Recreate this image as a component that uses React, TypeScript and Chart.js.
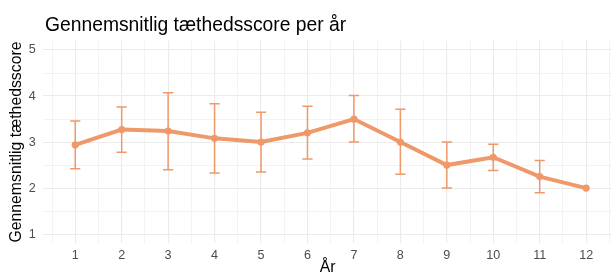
import React, { useEffect, useRef } from "react";
import { Chart, registerables } from "chart.js";

Chart.register(...registerables);

// ---- data ----
const years = [1, 2, 3, 4, 5, 6, 7, 8, 9, 10, 11, 12];
const meanScore = [2.94, 3.27, 3.24, 3.08, 3.0, 3.2, 3.5, 3.0, 2.5, 2.67, 2.25, 2.0];
const lowerScore: (number | null)[] = [2.42, 2.78, 2.4, 2.33, 2.35, 2.63, 3.0, 2.3, 2.0, 2.38, 1.9, null];
const upperScore: (number | null)[] = [3.46, 3.76, 4.07, 3.83, 3.65, 3.78, 4.01, 3.71, 3.0, 2.95, 2.6, null];
const xTickValues = [0.5, 1, 1.5, 2, 2.5, 3, 3.5, 4, 4.5, 5, 5.5, 6, 6.5, 7, 7.5, 8, 8.5, 9, 9.5, 10, 10.5, 11, 11.5, 12, 12.5];
const yTickValues = [1, 1.5, 2, 2.5, 3, 3.5, 4, 4.5, 5];

const TITLE = "Gennemsnitlig tæthedsscore per år";
const Y_TITLE = "Gennemsnitlig tæthedsscore";
const X_TITLE = "År";

const LINE_COLOR = "#EF996A";
const GRID_MAJOR = "#EBEBEB";
const FONT = "'Liberation Sans', Arial, Helvetica, sans-serif";
const CAP_WIDTH = 0.22;

const errorBarPlugin = {
  id: "errorBars",
  beforeDatasetsDraw(chart: any) {
    const { ctx, scales } = chart;
    const x = scales.x;
    const y = scales.y;
    ctx.save();
    ctx.strokeStyle = LINE_COLOR;
    ctx.lineWidth = 1.5;
    years.forEach((yr, i) => {
      const lo = lowerScore[i];
      const hi = upperScore[i];
      if (lo == null || hi == null) return;
      const px = x.getPixelForValue(yr);
      const half = x.getPixelForValue(yr + CAP_WIDTH / 2) - px;
      const pLo = y.getPixelForValue(lo);
      const pHi = y.getPixelForValue(hi);
      ctx.beginPath();
      ctx.moveTo(px, pLo);
      ctx.lineTo(px, pHi);
      ctx.moveTo(px - half, pLo);
      ctx.lineTo(px + half, pLo);
      ctx.moveTo(px - half, pHi);
      ctx.lineTo(px + half, pHi);
      ctx.stroke();
    });
    ctx.restore();
  },
};

export default function App() {
  const canvasRef = useRef<HTMLCanvasElement | null>(null);

  useEffect(() => {
    if (!canvasRef.current) return;
    Chart.defaults.font.family = FONT;
    const isMajor = (v: number) => Number.isInteger(v);
    const chart = new Chart(canvasRef.current, {
      type: "line",
      data: {
        datasets: [
          {
            data: years.map((yr, i) => ({ x: yr, y: meanScore[i] })),
            borderColor: LINE_COLOR,
            backgroundColor: LINE_COLOR,
            borderWidth: 4,
            pointRadius: 3.6,
            pointBorderWidth: 0,
            pointBackgroundColor: LINE_COLOR,
            tension: 0,
          },
        ],
      },
      options: {
        animation: false,
        responsive: false,
        devicePixelRatio: 1,
        layout: { padding: { top: 40.8, left: 0, right: 0, bottom: 0 } },
        plugins: {
          legend: { display: false },
          tooltip: { enabled: false },
          title: { display: false },
        },
        scales: {
          x: {
            type: "linear",
            min: 0.3125,
            max: 12.557,
            afterBuildTicks: (scale: any) => {
              scale.ticks = xTickValues.map((v) => ({ value: v }));
            },
            afterFit: (scale: any) => {
              scale.height = 36.7;
            },
            border: { display: false },
            grid: {
              drawTicks: false,
              color: GRID_MAJOR,
              lineWidth: (ctx: any) => (isMajor(ctx.tick.value) ? 1.1 : 0.6),
            },
            ticks: {
              autoSkip: false,
              maxRotation: 0,
              minRotation: 0,
              padding: 5,
              color: "#4D4D4D",
              font: { size: 12.6 },
              callback: (v: any) => (isMajor(Number(v)) ? String(v) : ""),
            },
            title: {
              display: true,
              text: X_TITLE,
              color: "#000000",
              font: { size: 15.8 },
              padding: { top: 0, bottom: 3 },
            },
          },
          y: {
            type: "linear",
            min: 0.8,
            max: 5.2,
            afterBuildTicks: (scale: any) => {
              scale.ticks = yTickValues.map((v) => ({ value: v }));
            },
            afterFit: (scale: any) => {
              scale.width = 43.3;
            },
            border: { display: false },
            grid: {
              drawTicks: false,
              color: GRID_MAJOR,
              lineWidth: (ctx: any) => (isMajor(ctx.tick.value) ? 1.1 : 0.6),
            },
            ticks: {
              padding: 7.6,
              color: "#4D4D4D",
              font: { size: 12.6 },
              callback: (v: any) => (isMajor(Number(v)) ? String(v) : ""),
            },
            title: {
              display: true,
              text: Y_TITLE,
              color: "#000000",
              font: { size: 15.8 },
              padding: { top: 7.5, bottom: 0 },
            },
          },
        },
      } as any,
      plugins: [errorBarPlugin],
    });
    return () => chart.destroy();
  }, []);

  return (
    <div
      style={{
        position: "fixed",
        left: 0,
        top: 0,
        width: 616,
        height: 280,
        background: "#ffffff",
        overflow: "hidden",
      }}
    >
      <canvas ref={canvasRef} width={616} height={280} style={{ display: "block", width: 616, height: 280 }} />
      <div
        style={{
          position: "absolute",
          left: 45,
          top: 14.5,
          fontFamily: FONT,
          fontSize: 19.3,
          lineHeight: "19.3px",
          color: "#000000",
          whiteSpace: "nowrap",
        }}
      >
        {TITLE}
      </div>
    </div>
  );
}
